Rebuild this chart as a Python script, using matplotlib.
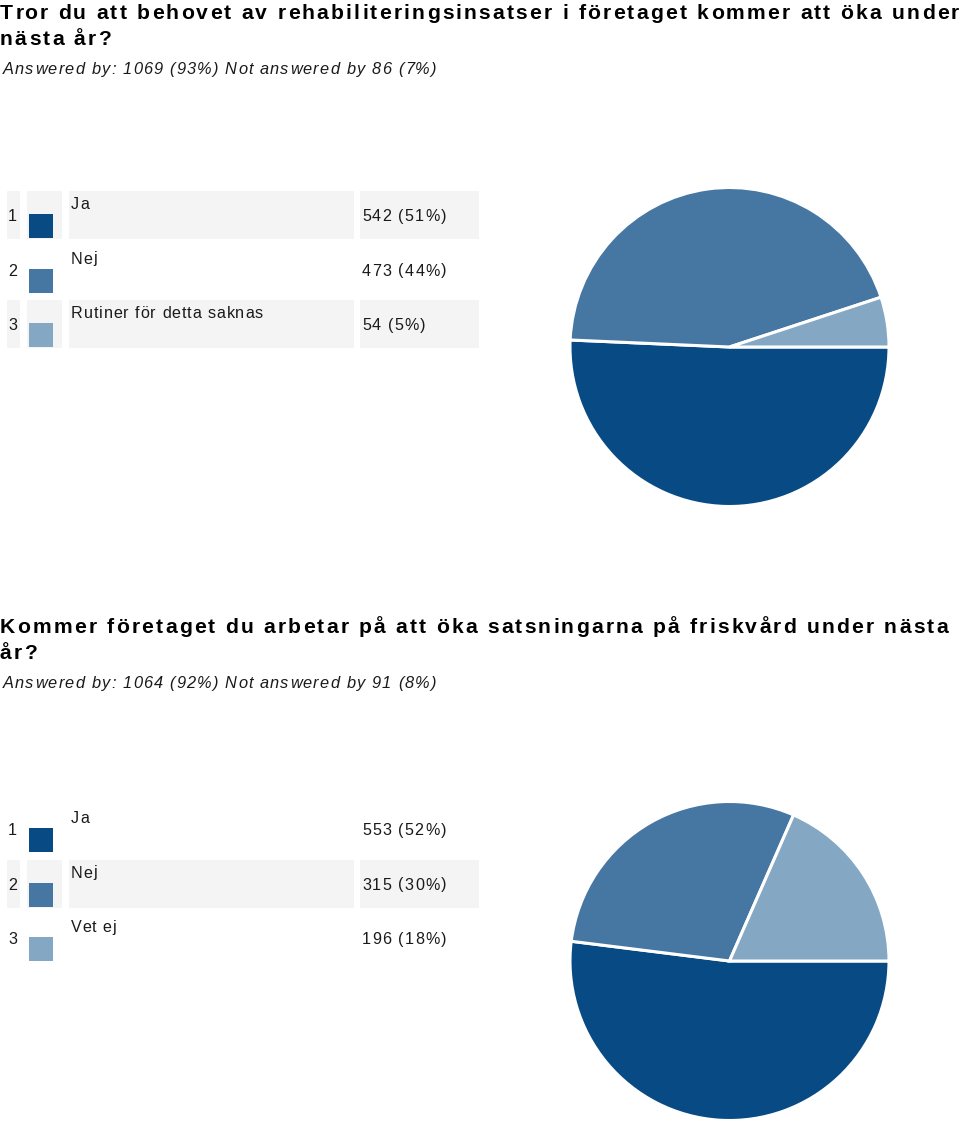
import matplotlib
matplotlib.use("Agg")
import matplotlib.pyplot as plt
from matplotlib.patches import Rectangle
from matplotlib.font_manager import FontProperties

# ---- data ----
q1_title = ["Tror du att behovet av rehabiliteringsinsatser i företaget kommer att öka under",
            "nästa år?"]
q1_sub = "Answered by: 1069 (93%) Not answered by 86 (7%)"
q1_labels = ["Ja", "Nej", "Rutiner för detta saknas"]
q1_counts = [542, 473, 54]
q1_pcts = [51, 44, 5]

q2_title = ["Kommer företaget du arbetar på att öka satsningarna på friskvård under nästa",
            "år?"]
q2_sub = "Answered by: 1064 (92%) Not answered by 91 (8%)"
q2_labels = ["Ja", "Nej", "Vet ej"]
q2_counts = [553, 315, 196]
q2_pcts = [52, 30, 18]

colors = ["#084b84", "#4677a3", "#84a7c3"]

W, H = 960, 1129
fig = plt.figure(figsize=(W / 100, H / 100), dpi=100)
ax = fig.add_axes([0, 0, 1, 1])
ax.set_xlim(0, W)
ax.set_ylim(H, 0)
ax.axis("off")

renderer = fig.canvas.get_renderer()
FAM = "Liberation Sans"


def spaced(x, y, s, spacing, size, weight="normal", style="normal", color="black"):
    fp = FontProperties(family=FAM, size=size, weight=weight, style=style)
    ref = renderer.get_text_width_height_descent("l", fp, ismath=False)[0]
    for i, ch in enumerate(s):
        if ch == " ":
            continue
        w = renderer.get_text_width_height_descent(s[:i] + "l", fp, ismath=False)[0] - ref
        if i == 0:
            w = 0
        ax.text(x + w + i * spacing, y, ch, fontproperties=fp, color=color,
                ha="left", va="baseline")


def section(dy, title, sub, labels, counts, pcts, shading):
    spaced(0, 19 + dy, title[0], 2.2, 15.2, weight="bold")
    spaced(0, 45 + dy, title[1], 2.2, 15.2, weight="bold")
    spaced(3, 74 + dy, sub, 1.2, 11.8, style="italic", color="#1a1a1a")
    for i, (lab, c, p) in enumerate(zip(labels, counts, pcts)):
        top = 191 + dy + i * 54.5
        if shading[i]:
            for x0, x1 in [(7, 20), (27, 62), (69, 354), (360, 479)]:
                ax.add_patch(Rectangle((x0, top), x1 - x0, 48, facecolor="#f4f4f4",
                                       edgecolor="none"))
        ax.add_patch(Rectangle((29, top + 23), 24, 24, facecolor=colors[i], edgecolor="none"))
        spaced(8, top + 30, str(i + 1), 0, 11.6, color="#1a1a1a")
        spaced(71, top + 18, lab, 0.9, 11.6, color="#1a1a1a")
        spaced(362, top + 30, f"{c} ({p}%)", 1.2, 11.6, color="#1a1a1a")

    cx, cy, r = 729.5, 347 + dy, 159.5
    pax = fig.add_axes([(cx - r) / W, (H - cy - r) / H, 2 * r / W, 2 * r / H])
    pax.pie(counts, colors=colors, startangle=0, counterclock=False,
            wedgeprops=dict(edgecolor="white", linewidth=2.2))
    pax.set_xlim(-1, 1)
    pax.set_ylim(-1, 1)
    pax.set_aspect("auto")
    pax.axis("off")


section(0, q1_title, q1_sub, q1_labels, q1_counts, q1_pcts, [True, False, True])
section(614, q2_title, q2_sub, q2_labels, q2_counts, q2_pcts, [False, True, False])

fig.savefig("out.png", dpi=100)
